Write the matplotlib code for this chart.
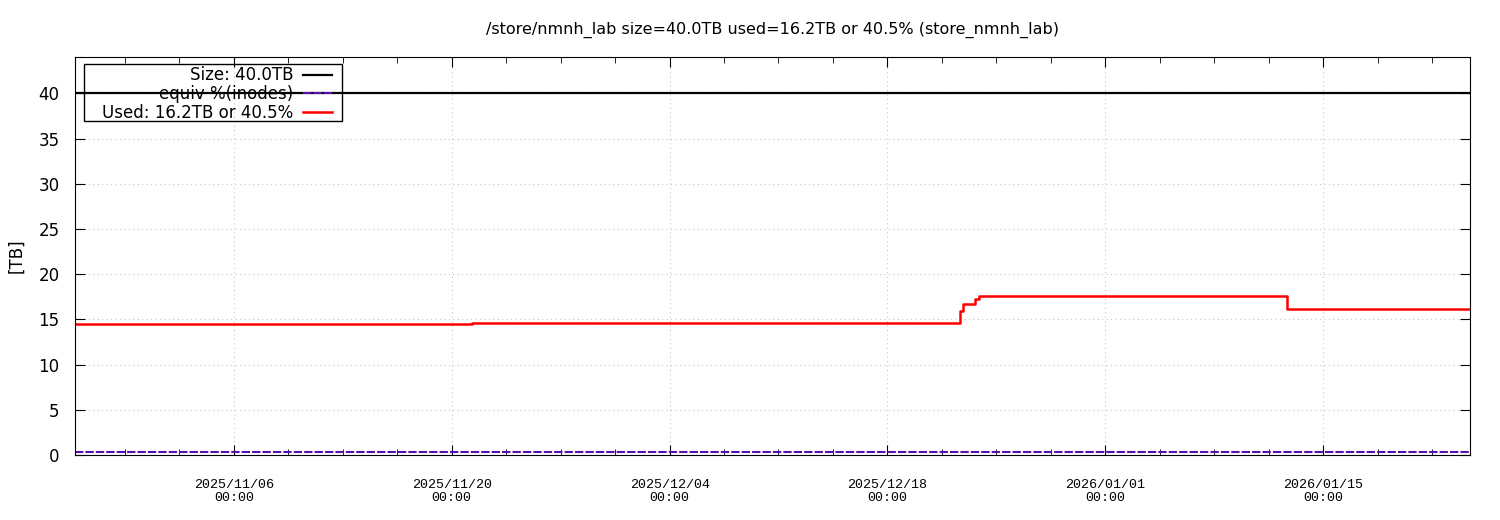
import matplotlib
matplotlib.use('Agg')
import matplotlib.pyplot as plt
from matplotlib.patches import Rectangle
import pandas as pd

# Used space, stepwise [TB]
used_times = pd.to_datetime([
    '2025-10-26 19:00', '2025-11-21 08:00', '2025-12-22 16:30', '2025-12-22 20:00',
    '2025-12-23 15:00', '2025-12-23 21:40', '2026-01-12 16:00', '2026-01-24 10:30',
])
used_tb = [14.48, 14.6, 15.9, 16.65, 17.2, 17.6, 16.15, 16.15]

size_tb = 40.0
inode_equiv = 0.33

x_start = pd.Timestamp('2025-10-26 19:00')
x_end = pd.Timestamp('2026-01-24 10:30')
major_ticks = pd.to_datetime(['2025-11-06', '2025-11-20', '2025-12-04',
                              '2025-12-18', '2026-01-01', '2026-01-15'])

fig = plt.figure(figsize=(15, 5.2), dpi=100)
ax = fig.add_axes([0.05, 0.125, 0.93, 0.765])

ax.plot([x_start, x_end], [size_tb, size_tb], color='black', lw=1.6, label='Size: 40.0TB')
ax.plot([x_start, x_end], [inode_equiv, inode_equiv], color='#5a10b0', lw=1.5,
        dashes=(4, 1), label='equiv %(inodes)')
ax.step(used_times, used_tb, where='post', color='red', lw=1.8,
        label='Used: 16.2TB or 40.5%')

# minor ticks every 3.5 days
minor = []
t = major_ticks[0] - pd.Timedelta(days=14)
while t < x_end:
    minor.append(t)
    t += pd.Timedelta(hours=84)
ax.set_xticks(major_ticks)
ax.set_xticks(minor, minor=True)
ax.set_xticklabels([d.strftime('%Y/%m/%d\n%H:%M') for d in major_ticks],
                   family='Liberation Mono', fontsize=9.6)
ax.set_xlim(x_start, x_end)
ax.set_ylim(0, 44)
ax.set_yticks(range(0, 45, 5))
ax.tick_params(axis='both', which='both', direction='in', top=True, right=True)
ax.tick_params(axis='x', which='major', length=7, pad=17)
ax.tick_params(axis='x', which='minor', length=4)
ax.tick_params(axis='y', labelsize=12, length=7, pad=11)
ax.grid(True, which='major', color='#c8c8c8', linestyle=(0, (1, 3)), lw=0.8)
ax.set_ylabel('[TB]', fontsize=12)
ax.yaxis.set_label_coords(-0.0355, 0.5)
ax.set_title('/store/nmnh_lab size=40.0TB used=16.2TB or 40.5% (store_nmnh_lab)',
             fontsize=11.5, pad=17)

# legend box like gnuplot's
fig.patches.append(Rectangle((84 / 1500, 1 - 121 / 520), 258 / 1500, 57 / 520,
                             transform=fig.transFigure, fill=False,
                             edgecolor='black', lw=1, zorder=1))
leg = ax.legend(loc='upper right', markerfirst=False, fontsize=12, frameon=False,
                borderpad=0.15, labelspacing=0.05, handlelength=1.75,
                handletextpad=0.55, borderaxespad=0,
                bbox_to_anchor=(334.5 / 1500, 1 - 64 / 520),
                bbox_transform=fig.transFigure)
leg.set_zorder(5)
for txt in leg.get_texts():
    txt.set_ha('right')

fig.savefig('out.png')
